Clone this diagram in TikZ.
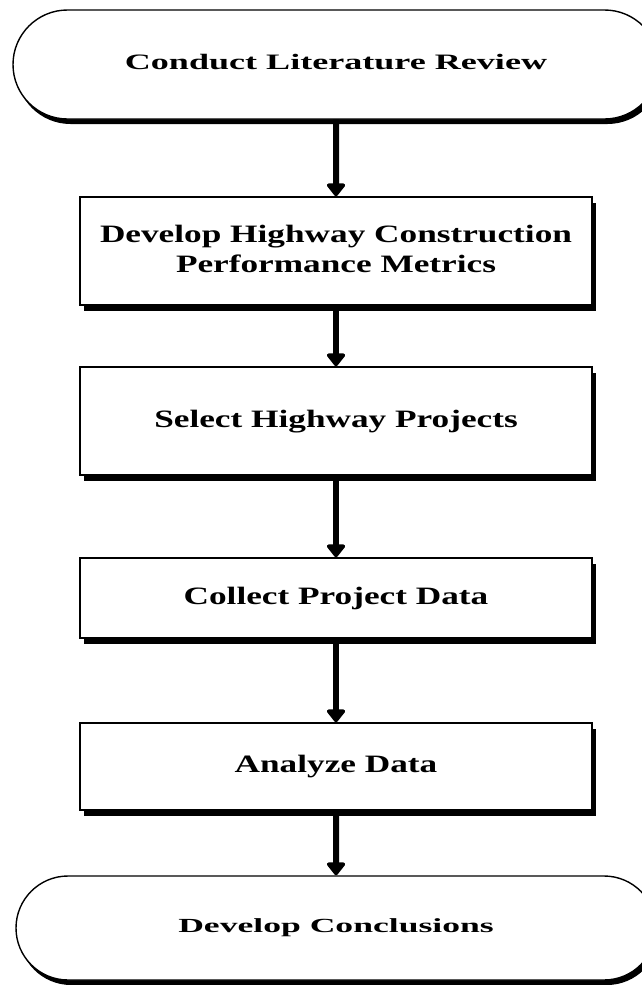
\documentclass[tikz,border=0pt]{standalone}
\usepackage{fontspec}
\usepackage{graphicx}
\setmainfont{Liberation Serif}
\usetikzlibrary{arrows.meta,shapes.misc,shadows}
\newcommand\stretchtext[2]{\scalebox{#1}[1]{\begin{tabular}{@{}c@{}}#2\end{tabular}}}
\tikzset{
  stepbox/.style={draw=black, line width=1.4pt, fill=white, rectangle, inner sep=0pt,
    minimum width=512pt,
    drop shadow={shadow xshift=4pt, shadow yshift=-6pt, opacity=1, fill=black}},
  termbox/.style={draw=black, line width=1.4pt, fill=white, rounded rectangle, inner sep=0pt,
    drop shadow={shadow xshift=3pt, shadow yshift=-5pt, opacity=1, fill=black}},
  boxfont/.style={font=\fontsize{25}{30}\selectfont\bfseries},
  flowarrow/.style={line width=6pt, -{Triangle[width=21pt,length=14pt,round]}},
}
\begin{document}
\begin{tikzpicture}[x=1pt,y=-1pt]
\useasboundingbox (0,0) rectangle (642,985);
\node[termbox, minimum width=646pt, minimum height=109pt,
      font=\fontsize{22}{26}\selectfont\bfseries] (t1) at (336,64.5)
  {\stretchtext{1.64}{Conduct Literature Review}};
\node[stepbox, minimum height=108pt, boxfont] (b1) at (336,251)
  {\stretchtext{1.41}{Develop Highway Construction\\Performance Metrics}};
\node[stepbox, minimum height=108pt, boxfont] (b2) at (336,421)
  {\stretchtext{1.41}{Select Highway Projects}};
\node[stepbox, minimum height=80pt, boxfont] (b3) at (336,598)
  {\stretchtext{1.41}{Collect Project Data}};
\node[stepbox, minimum height=87pt, boxfont] (b4) at (336,766.5)
  {\stretchtext{1.41}{Analyze Data}};
\node[termbox, minimum width=640pt, minimum height=104pt,
      font=\fontsize{20}{24}\selectfont\bfseries] (t2) at (336,928)
  {\stretchtext{1.78}{Develop Conclusions}};
\draw[flowarrow] (t1) -- (b1);
\draw[flowarrow] (b1) -- (b2);
\draw[flowarrow] (b2) -- (b3);
\draw[flowarrow] (b3) -- (b4);
\draw[flowarrow] (b4) -- (t2);
\end{tikzpicture}
\end{document}
